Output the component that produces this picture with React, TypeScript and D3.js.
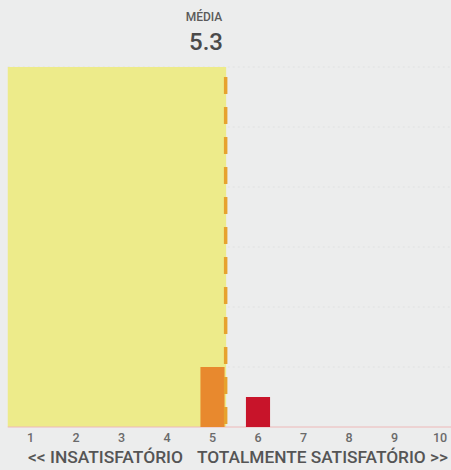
import React from "react";
import * as d3 from "d3";

const ratings = [1, 2, 3, 4, 5, 6, 7, 8, 9, 10];
const counts = [0, 0, 0, 0, 2, 1, 0, 0, 0, 0];
const barColors = ["#ECEA86", "#ECEA86", "#ECEA86", "#ECEA86", "#E8892E", "#C8142A", "#C8142A", "#C8142A", "#C8142A", "#C8142A"];
const meanValue = 5.3;
const yTicks = [2, 4, 6, 8, 10, 12];
const meanLabel = "MÉDIA";
const axisLeft = "<< INSATISFATÓRIO";
const axisRight = "TOTALMENTE SATISFATÓRIO >>";

const W = 451;
const H = 470;

export default function App() {
  const x = d3.scaleLinear().domain([1, 10]).range([30.5, 440]);
  const y = d3.scaleLinear().domain([0, 12]).range([427, 67]);
  const step = x(2) - x(1);
  const bw = step * 0.53;
  const font = "Roboto, 'Liberation Sans', Arial, sans-serif";

  return (
    <svg width={W} height={H} style={{ position: "absolute", left: 0, top: 0 }} fontFamily={font}>
      <rect x={0} y={0} width={W} height={H} fill="#ECEDED" />
      {yTicks.map((t) => (
        <line key={t} x1={x(0.5)} x2={W} y1={y(t)} y2={y(t)} stroke="#E0E1E1" strokeWidth={1} strokeDasharray="2 3" />
      ))}
      <rect x={x(0.5)} y={y(12)} width={x(meanValue) - x(0.5)} height={y(0) - y(12)} fill="#EDEB8A" />
      <line x1={x(0.5)} x2={W} y1={y(0)} y2={y(0)} stroke="#EDB8B8" strokeWidth={1} />
      {ratings.map((r, i) =>
        counts[i] > 0 ? (
          <rect key={r} x={x(r) - bw / 2} y={y(counts[i])} width={bw} height={y(0) - y(counts[i])} fill={barColors[i]} />
        ) : null
      )}
      <line x1={x(meanValue) - 0.5} x2={x(meanValue) - 0.5} y1={y(12)} y2={y(0)} stroke="#E7A22E" strokeWidth={3.5} strokeDasharray="17 13" strokeDashoffset={-10} />
      <text x={204} y={21} textAnchor="middle" fontSize={12} fontWeight={500} fill="#5A5A5A">{meanLabel}</text>
      <text x={206} y={50} textAnchor="middle" fontSize={24} fontWeight={500} fill="#4A4A4A">{d3.format(".1f")(meanValue)}</text>
      {ratings.map((r) => (
        <text key={r} x={x(r)} y={442} textAnchor="middle" fontSize={12.5} fontWeight={500} fill="#6A6A6A">{r}</text>
      ))}
      <text x={28} y={463} fontSize={16} fontWeight={500} fill="#555" textLength={155} lengthAdjust="spacingAndGlyphs">{axisLeft}</text>
      <text x={197} y={463} fontSize={16} fontWeight={500} fill="#555" textLength={251} lengthAdjust="spacingAndGlyphs">{axisRight}</text>
    </svg>
  );
}
